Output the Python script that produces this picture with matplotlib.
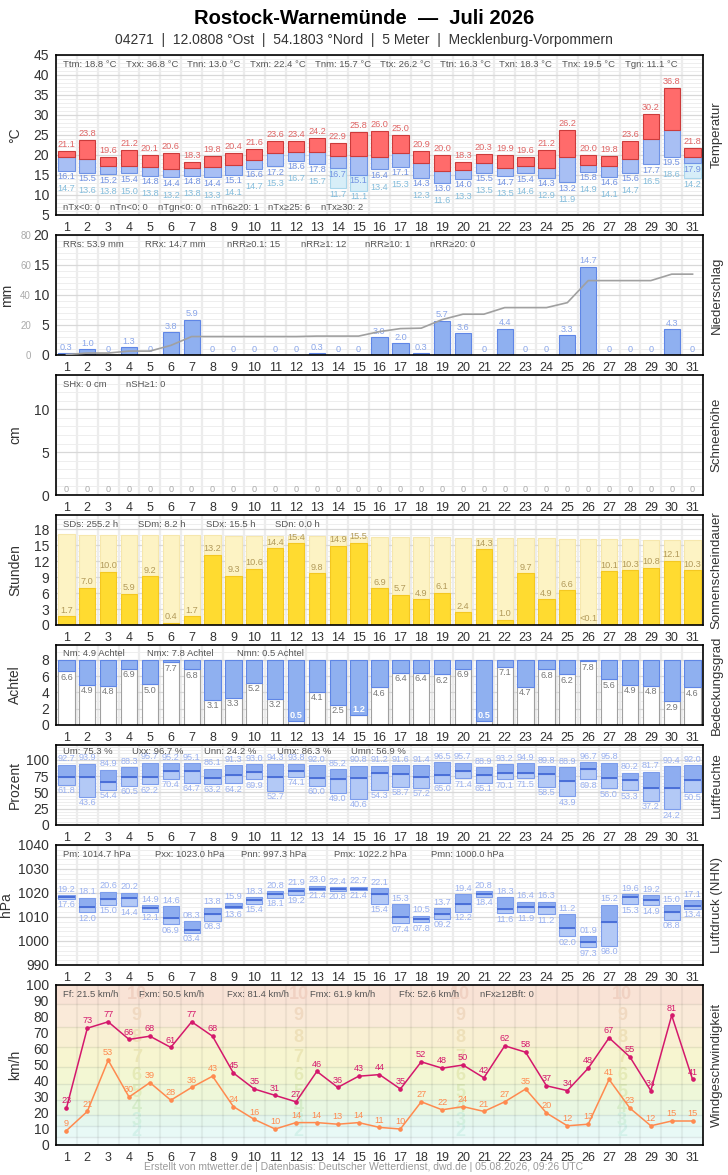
import numpy as np
import matplotlib
matplotlib.use('Agg')
import matplotlib.pyplot as plt
from matplotlib.transforms import blended_transform_factory

plt.rcParams['font.family'] = ['Liberation Sans', 'DejaVu Sans']

days = np.arange(1, 32)

# Temperatur (°C)
t_max = [21.1, 23.8, 19.6, 21.2, 20.1, 20.6, 18.3, 19.8, 20.4, 21.6, 23.6, 23.4, 24.2, 22.9, 25.8, 26.0,
         25.0, 20.9, 20.0, 18.3, 20.3, 19.9, 19.6, 21.2, 26.2, 20.0, 19.8, 23.6, 30.2, 36.8, 21.8]
t_mean = [19.4, 18.9, 17.2, 17.2, 17.1, 16.4, 16.7, 16.9, 17.6, 18.7, 20.4, 20.7, 20.7, 19.8, 19.8, 19.6,
          20.4, 17.9, 16.1, 16.2, 17.9, 16.7, 17.2, 16.7, 19.4, 17.4, 17.2, 18.9, 23.9, 26.2, 19.4]
t_min = [16.1, 15.5, 15.2, 15.4, 14.8, 14.4, 14.8, 14.4, 15.1, 16.6, 17.2, 18.6, 17.8, 16.7, 15.1, 16.4,
         17.1, 14.3, 13.0, 14.0, 15.5, 14.7, 15.4, 14.3, 13.2, 15.8, 14.6, 15.6, 17.7, 19.5, 17.9]
t_ground = [14.7, 13.6, 13.8, 15.0, 13.8, 13.2, 13.8, 13.3, 14.1, 14.7, 15.3, 16.7, 15.7, 11.7, 11.1, 13.4,
            15.3, 12.3, 11.6, 13.3, 13.5, 13.5, 14.6, 12.9, 11.9, 14.9, 14.1, 14.7, 16.5, 18.6, 14.2]
ground_box_days = [14, 15, 31]
temp_stats = ['Ttm: 18.8 °C', 'Txx: 36.8 °C', 'Tnn: 13.0 °C', 'Txm: 22.4 °C', 'Tnm: 15.7 °C',
              'Ttx: 26.2 °C', 'Ttn: 16.3 °C', 'Txn: 18.3 °C', 'Tnx: 19.5 °C', 'Tgn: 11.1 °C']
temp_counts = ['nTx<0: 0', 'nTn<0: 0', 'nTgn<0: 0', 'nTn6≥20: 1', 'nTx≥25: 6', 'nTx≥30: 2']

# Niederschlag (mm)
rain = [0.3, 1.0, 0, 1.3, 0, 3.8, 5.9, 0, 0, 0, 0, 0, 0.3, 0, 0, 3.0,
        2.0, 0.3, 5.7, 3.6, 0, 4.4, 0, 0, 3.3, 14.7, 0, 0, 0, 4.3, 0]
rain_stats = ['RRs: 53.9 mm', 'RRx: 14.7 mm', 'nRR≥0.1: 15', 'nRR≥1: 12', 'nRR≥10: 1', 'nRR≥20: 0']

# Schneehöhe (cm)
snow = [0] * 31
snow_stats = ['SHx: 0 cm', 'nSH≥1: 0']

# Sonnenscheindauer (h)
sun = [1.7, 7.0, 10.0, 5.9, 9.2, 0.4, 1.7, 13.2, 9.3, 10.6, 14.4, 15.4, 9.8, 14.9, 15.5, 6.9,
       5.7, 4.9, 6.1, 2.4, 14.3, 1.0, 9.7, 4.9, 6.6, 0.05, 10.1, 10.3, 10.8, 12.1, 10.3]
sun_possible = [17.05, 17.03, 17.0, 16.98, 16.95, 16.92, 16.89, 16.86, 16.83, 16.8, 16.77, 16.74, 16.7, 16.67,
                16.63, 16.6, 16.56, 16.52, 16.48, 16.44, 16.4, 16.36, 16.32, 16.28, 16.24, 16.2, 16.16,
                16.12, 16.08, 16.03, 15.99]
sun_stats = ['SDs: 255.2 h', 'SDm: 8.2 h', 'SDx: 15.5 h', 'SDn: 0.0 h']

# Bedeckungsgrad (Achtel)
cloud = [6.6, 4.9, 4.8, 6.9, 5.0, 7.7, 6.8, 3.1, 3.3, 5.2, 3.2, 0.5, 4.1, 2.5, 1.2, 4.6,
         6.4, 6.4, 6.2, 6.9, 0.5, 7.1, 4.7, 6.8, 6.2, 7.8, 5.6, 4.9, 4.8, 2.9, 4.6]
cloud_stats = ['Nm: 4.9 Achtel', 'Nmx: 7.8 Achtel', 'Nmn: 0.5 Achtel']

# Luftfeuchte (%)
rh_max = [92.7, 93.9, 84.9, 88.3, 95.7, 95.2, 95.1, 86.1, 91.3, 93.0, 94.3, 93.8, 92.0, 85.2, 90.8, 91.2,
          91.6, 91.4, 96.5, 95.7, 88.9, 93.2, 94.9, 89.8, 88.9, 96.7, 95.8, 80.2, 81.7, 90.4, 92.0]
rh_mean = [73.2, 73.2, 66.0, 73.0, 73.0, 83.0, 83.0, 72.0, 77.0, 81.4, 73.7, 83.0, 72.0, 70.6, 72.0, 80.0,
           78.4, 73.7, 76.8, 83.0, 76.8, 80.0, 80.0, 78.4, 67.5, 86.0, 72.0, 69.0, 56.7, 56.7, 69.0]
rh_min = [61.8, 43.6, 54.4, 60.5, 62.2, 70.4, 64.7, 63.2, 64.2, 69.9, 52.7, 74.1, 60.0, 49.0, 40.6, 54.3,
          58.7, 57.2, 65.0, 71.4, 65.1, 70.1, 71.5, 58.5, 43.9, 69.8, 56.0, 53.3, 37.2, 24.2, 50.5]
rh_stats = ['Um: 75.3 %', 'Uxx: 96.7 %', 'Unn: 24.2 %', 'Umx: 86.3 %', 'Umn: 56.9 %']

# Luftdruck (hPa)
p_max = [1019.2, 1018.1, 1020.6, 1020.2, 1014.9, 1014.6, 1008.3, 1013.8, 1015.9, 1018.3, 1020.8, 1021.9,
         1023.0, 1022.4, 1022.7, 1022.1, 1015.3, 1010.5, 1013.7, 1019.4, 1020.8, 1018.3, 1016.4, 1016.3,
         1011.2, 1001.9, 1015.2, 1019.6, 1019.2, 1015.0, 1017.1]
p_mean = [1018.2, 1014.3, 1017.5, 1018.1, 1013.9, 1009.7, 1004.7, 1011.4, 1014.3, 1017.1, 1019.4, 1021.0,
          1021.8, 1021.5, 1021.7, 1019.4, 1010.1, 1009.2, 1011.4, 1015.6, 1019.4, 1013.5, 1014.3, 1014.3,
          1005.6, 999.7, 1008.1, 1018.2, 1017.2, 1012.2, 1014.7]
p_min = [1017.6, 1012.0, 1015.0, 1014.4, 1012.1, 1006.9, 1003.4, 1008.3, 1013.6, 1015.4, 1018.1, 1019.2,
         1021.4, 1020.8, 1021.4, 1015.4, 1007.4, 1007.8, 1009.2, 1012.2, 1018.4, 1011.6, 1011.9, 1011.2,
         1002.0, 997.3, 998.0, 1015.3, 1014.9, 1008.8, 1013.4]
p_stats = ['Pm: 1014.7 hPa', 'Pxx: 1023.0 hPa', 'Pnn: 997.3 hPa', 'Pmx: 1022.2 hPa', 'Pmn: 1000.0 hPa']

# Wind (km/h)
gust = [23, 73, 77, 66, 68, 61, 77, 68, 45, 35, 31, 27, 46, 36, 43, 44,
        35, 52, 48, 50, 42, 62, 58, 37, 34, 48, 67, 55, 34, 81, 41]
wind = [9, 21, 53, 30, 39, 28, 36, 43, 24, 16, 10, 14, 14, 13, 14, 11,
        10, 27, 22, 24, 21, 27, 35, 20, 12, 13, 41, 23, 12, 15, 15]
wind_stats = ['Ff: 21.5 km/h', 'Fxm: 50.5 km/h', 'Fxx: 81.4 km/h', 'Fmx: 61.9 km/h', 'Ffx: 52.6 km/h',
              'nFx≥12Bft: 0']
bft_edges = [0, 5, 12, 19, 28, 38, 49, 61, 74, 88, 100]
bft_numbers = ['', '2', '3', '4', '5', '6', '7', '8', '9', '10']
bft_colors = ['#effbfb', '#e8f9f6', '#e5f7ee', '#e9f7e2', '#eef7d9', '#f3f7d3', '#f7f5d0', '#f9f0d3',
              '#faead9', '#f9e3d6']
bft_digit_colors = ['#effbfb', '#d3f1ea', '#d1efdd', '#d5ecc9', '#dfecbd', '#e5eab7', '#ebe6b5', '#eee0b9',
                    '#f0d9c1', '#f0d1c2']

W, H = 728, 1175
fig = plt.figure(figsize=(W / 100, H / 100), dpi=100)
fig.patch.set_facecolor('white')

fig.text(0.5, 1 - 18 / H, 'Rostock-Warnemünde  —  Juli 2026', ha='center', va='center',
         fontsize=14.5, fontweight='bold')
fig.text(0.5, 1 - 40 / H, '04271  |  12.0808 °Ost  |  54.1803 °Nord  |  5 Meter  |  Mecklenburg-Vorpommern',
         ha='center', va='center', fontsize=10, color='#333333')
fig.text(0.5, 1 - 1167 / H, 'Erstellt von mtwetter.de | Datenbasis: Deutscher Wetterdienst, dwd.de | '
         '05.08.2026, 09:26 UTC', ha='center', va='center', fontsize=7.5, color='#999999')

AX_L, AX_R = 56, 703


def panel(top, bottom, ylim, major, minor, ylabel, title, ylabel_x=22):
    ax = fig.add_axes([AX_L / W, 1 - bottom / H, (AX_R - AX_L) / W, (bottom - top) / H])
    ax.set_xlim(0.5, 31.5)
    ax.set_ylim(*ylim)
    ax.set_xticks(days)
    ax.set_yticks(major)
    ax.set_yticks(minor, minor=True)
    ax.tick_params(axis='both', which='both', length=0)
    ax.tick_params(axis='x', labelsize=9, pad=5, colors='#333333')
    ax.tick_params(axis='y', labelsize=10, pad=5, colors='#333333')
    for x in np.arange(0.5, 32, 1):
        ax.axvline(x, color='#ececec', lw=1.6, zorder=0)
    ax.grid(axis='y', which='major', color='#d8d8d8', lw=0.9, zorder=0)
    ax.grid(axis='y', which='minor', color='#eeeeee', lw=0.7, zorder=0)
    ax.set_axisbelow(True)
    for s in ax.spines.values():
        s.set_linewidth(1.2)
        s.set_zorder(10)
    ax.set_ylabel(ylabel, fontsize=10, color='#333333')
    ax.yaxis.set_label_coords((ylabel_x - AX_L) / (AX_R - AX_L), 0.5)
    ax.text(1.012, 0.5, title, rotation=90, transform=ax.transAxes, va='center', ha='left',
            fontsize=9.5, color='#333333')
    ax.panel_px = (top, bottom)
    return ax


def stats(ax, items, xs, dy=9.5, from_top=True):
    top, bottom = ax.panel_px
    y = 1 - dy / (bottom - top) if from_top else dy / (bottom - top)
    for item, x in zip(items, xs):
        ax.text((x - AX_L) / (AX_R - AX_L), y, item, transform=ax.transAxes, ha='left', va='center',
                fontsize=6.8, color='#555555', zorder=12)


lbl = dict(ha='center', fontsize=6.6, textcoords='offset points', zorder=6)

# --- Temperatur ---
ax = panel(55, 215, (5, 45), range(5, 46, 5), range(5, 46, 1), '°C', 'Temperatur')
tx, tm, tn, tg = map(np.array, (t_max, t_mean, t_min, t_ground))
for d in ground_box_days:
    i = d - 1
    ax.bar(d, tn[i] - tg[i], bottom=tg[i], width=0.78, color='#d7eef8', edgecolor='#a9d6ec', lw=0.8, zorder=3)
ax.bar(days, tm - tn, bottom=tn, width=0.78, color='#a8bff4', edgecolor='#6f93e6', lw=0.8, zorder=3)
ax.bar(days, tx - tm, bottom=tm, width=0.78, color='#ff6b6b', edgecolor='#cc3b3b', lw=0.8, zorder=4)
for i, d in enumerate(days):
    ax.annotate(f'{tx[i]:.1f}', (d, tx[i]), xytext=(0, 1.5), va='bottom', color='#e06666', **lbl)
    ax.annotate(f'{tn[i]:.1f}', (d, tn[i]), xytext=(0, -1), va='top', color='#7393e2', **lbl)
    if d in ground_box_days:
        ax.annotate(f'{tg[i]:.1f}', (d, tg[i]), xytext=(0, -1), va='top', color='#84bddc', **lbl)
    else:
        ax.annotate(f'{tg[i]:.1f}', (d, tn[i]), xytext=(0, -9.5), va='top', color='#84bddc', **lbl)
stats(ax, temp_stats, [63, 126, 187, 250, 315, 380, 440, 499, 562, 625])
stats(ax, temp_counts, [63, 110, 158, 211, 268, 321], dy=7.5, from_top=False)

# --- Niederschlag ---
ax = panel(235, 355, (0, 20), range(0, 21, 5), range(0, 21, 1), 'mm', 'Niederschlag', ylabel_x=14)
ax.bar(days, rain, width=0.78, color='#8fb0f0', edgecolor='#5f86e6', lw=0.8, zorder=3)
for d, r in zip(days, rain):
    ax.annotate(f'{r:.1f}' if r > 0 else '0', (d, r), xytext=(0, 1), va='bottom', color='#8aa6ea', **lbl)
ax2 = ax.twinx()
ax2.set_ylim(0, 80)
ax2.set_yticks(range(0, 81, 20))
ax2.yaxis.set_ticks_position('left')
ax2.tick_params(axis='y', length=0, pad=18, labelsize=7, colors='#aaaaaa')
ax2.plot(days, np.cumsum(rain), color='#a0a0a0', lw=1.2, zorder=5)
for s in ax2.spines.values():
    s.set_visible(False)
stats(ax, rain_stats, [63, 145, 227, 301, 365, 430])

# --- Schneehöhe ---
ax = panel(375, 495, (0, 14), range(0, 11, 5), range(0, 15, 1), 'cm', 'Schneehöhe')
ax.bar(days, snow, width=0.78, color='#cccccc', zorder=3)
for d, s in zip(days, snow):
    ax.annotate(f'{s:.0f}', (d, s), xytext=(0, 1), va='bottom', color='#aaaaaa', **lbl)
stats(ax, snow_stats, [63, 126])

# --- Sonnenscheindauer ---
ax = panel(515, 625, (0, 20.7), range(0, 19, 3), range(0, 21, 1), 'Stunden', 'Sonnenscheindauer')
ax.bar(days, sun_possible, width=0.78, color='#fdf3c4', edgecolor='#f6e7ad', lw=0.8, zorder=2)
ax.bar(days, sun, width=0.78, color='#ffdb30', edgecolor='#f4c820', lw=0.8, zorder=3)
for d, s in zip(days, sun):
    txt = f'{s:.1f}' if s >= 0.1 else '<0.1'
    ax.annotate(txt, (d, s), xytext=(0, 1), va='bottom', color='#b29a5a', **lbl)
stats(ax, sun_stats, [63, 138, 206, 275])

# --- Bedeckungsgrad ---
ax = panel(645, 725, (0, 9.8), range(0, 9, 2), range(0, 10, 1), 'Achtel', 'Bedeckungsgrad')
cl = np.array(cloud)
ax.bar(days, cl, width=0.78, color='white', edgecolor='#a0a0a0', lw=0.8, zorder=3)
ax.bar(days, 8 - cl, bottom=cl, width=0.78, color='#8fb0f0', edgecolor='#5f86e6', lw=0.8, zorder=3)
for d, c in zip(days, cl):
    if c < 2:
        ax.annotate(f'{c:.1f}', (d, c), xytext=(0, 1), va='bottom', color='white', fontweight='bold', **lbl)
    else:
        ax.annotate(f'{c:.1f}', (d, c), xytext=(0, -1), va='top', color='#777777', **lbl)
stats(ax, cloud_stats, [63, 147, 237], dy=8)

# --- Luftfeuchte ---
ax = panel(745, 825, (0, 122.7), range(0, 101, 25), range(0, 121, 5), 'Prozent', 'Luftfeuchte')
ux, um, un = map(np.array, (rh_max, rh_mean, rh_min))
ax.bar(days, um - un, bottom=un, width=0.78, color='#b3c9f6', edgecolor='#7d9deb', lw=0.8, zorder=3)
ax.bar(days, ux - um, bottom=um, width=0.78, color='#8eadf0', edgecolor='#7d9deb', lw=0.8, zorder=3)
ax.hlines(um, days - 0.39, days + 0.39, color='#4a6fd8', lw=1.4, zorder=4)
for i, d in enumerate(days):
    ax.annotate(f'{ux[i]:.1f}', (d, ux[i]), xytext=(0, 1), va='bottom', color='#9ab1f0', **lbl)
    ax.annotate(f'{un[i]:.1f}', (d, un[i]), xytext=(0, -1), va='top', color='#9ab1f0', **lbl)
stats(ax, rh_stats, [63, 132, 204, 277, 351], dy=7)

# --- Luftdruck ---
ax = panel(845, 965, (990, 1040), range(990, 1041, 10), range(990, 1041, 2), 'hPa', 'Luftdruck (NHN)',
           ylabel_x=13)
px, pm, pn = map(np.array, (p_max, p_mean, p_min))
ax.bar(days, pm - pn, bottom=pn, width=0.78, color='#b3c9f6', edgecolor='#7d9deb', lw=0.8, zorder=3)
ax.bar(days, px - pm, bottom=pm, width=0.78, color='#8eadf0', edgecolor='#7d9deb', lw=0.8, zorder=3)
ax.hlines(pm, days - 0.39, days + 0.39, color='#4a6fd8', lw=1.4, zorder=4)
for i, d in enumerate(days):
    ax.annotate(f'{px[i] % 100:04.1f}', (d, px[i]), xytext=(0, 1), va='bottom', color='#9ab1f0', **lbl)
    ax.annotate(f'{pn[i] % 100:04.1f}', (d, pn[i]), xytext=(0, -1), va='top', color='#9ab1f0', **lbl)
stats(ax, p_stats, [63, 155, 241, 334, 431])

# --- Wind ---
ax = panel(985, 1145, (0, 100), range(0, 101, 10), [], 'km/h', 'Windgeschwindigkeit')
ax.grid(False)
for x in np.arange(0.5, 32, 1):
    ax.axvline(x, color='#000000', alpha=0.05, lw=1.6, zorder=1)
tr = blended_transform_factory(ax.transAxes, ax.transData)
for k in range(len(bft_colors)):
    ax.axhspan(bft_edges[k], bft_edges[k + 1], color=bft_colors[k], zorder=0, lw=0)
    if k > 0:
        ax.axhline(bft_edges[k], color='#000000', alpha=0.08, lw=1.0, zorder=1)
    if bft_numbers[k]:
        for fx in (0.125, 0.375, 0.625, 0.875):
            ax.text(fx, (bft_edges[k] + bft_edges[k + 1]) / 2, bft_numbers[k], transform=tr,
                    ha='center', va='center', fontsize=13, fontweight='bold',
                    color=bft_digit_colors[k], zorder=1)
ax.plot(days, wind, color='#ff8a4f', lw=1.1, marker='o', ms=2.3, zorder=4)
ax.plot(days, gust, color='#d4186c', lw=1.1, marker='o', ms=2.3, zorder=5)
for d, w, g in zip(days, wind, gust):
    ax.annotate(f'{w}', (d, w), xytext=(0, 2), va='bottom', color='#ff8a4f', **lbl)
    ax.annotate(f'{g}', (d, g), xytext=(0, 2), va='bottom', color='#d4186c', **lbl)
stats(ax, wind_stats, [63, 139, 227, 310, 399, 480])

fig.savefig('out.png', dpi=100)
